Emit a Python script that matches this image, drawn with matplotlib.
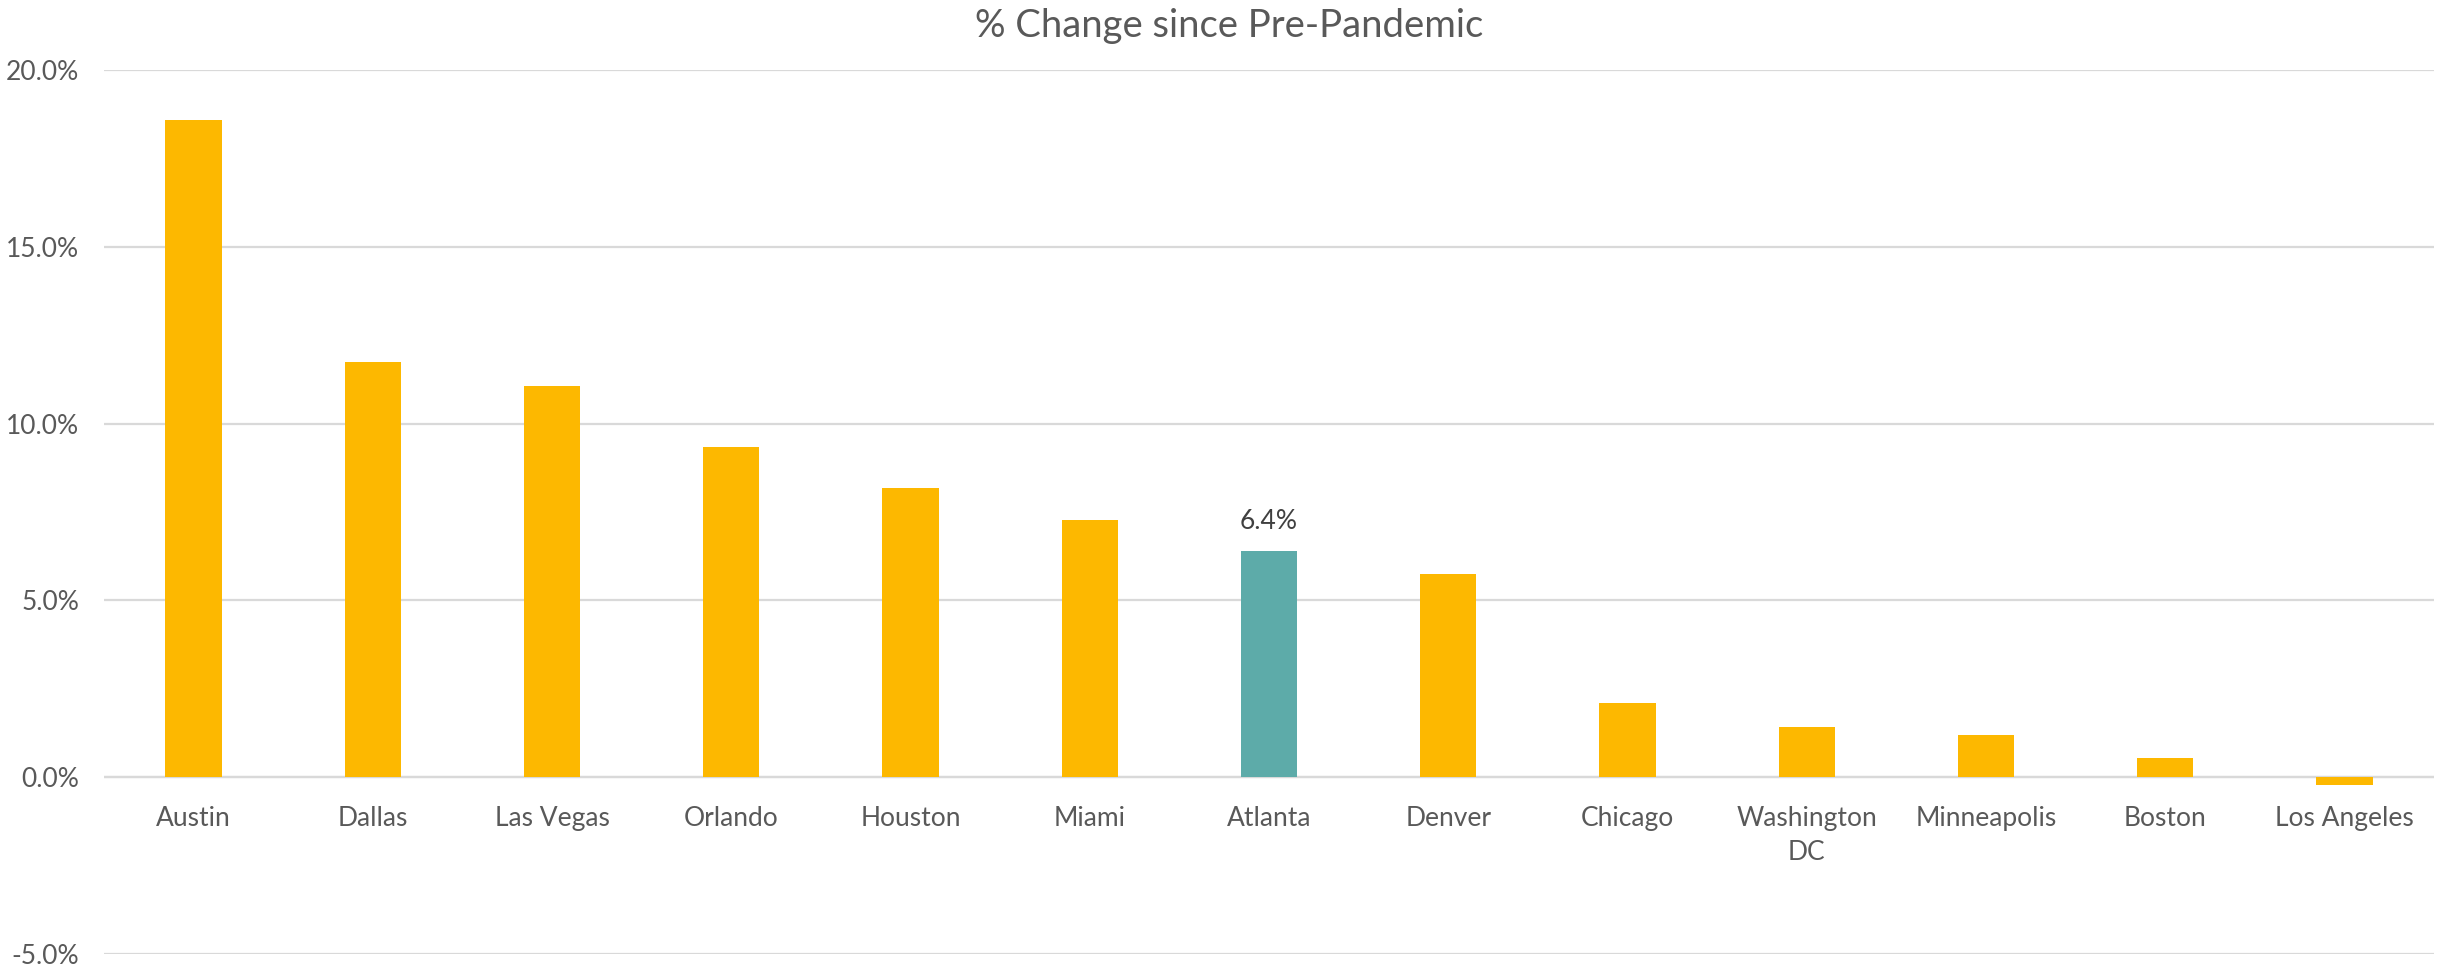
import matplotlib
matplotlib.use("Agg")
import matplotlib.pyplot as plt
from matplotlib.ticker import FuncFormatter, MultipleLocator
from matplotlib.transforms import ScaledTranslation

# Percent change in each metro since the pre-pandemic baseline
cities = ["Austin", "Dallas", "Las Vegas", "Orlando", "Houston", "Miami", "Atlanta",
          "Denver", "Chicago", "Washington\nDC", "Minneapolis", "Boston", "Los Angeles"]
pct_change = [18.6, 11.73, 11.06, 9.33, 8.17, 7.26, 6.4,
              5.76, 2.11, 1.43, 1.20, 0.53, -0.23]
highlight = "Atlanta"

GOLD = "#FDB800"
TEAL = "#5DABA9"
GRID = "#D9D9D9"
TEXT = "#595959"

plt.rcParams["font.family"] = ["Lato", "DejaVu Sans"]

fig = plt.figure(figsize=(24.38, 9.68), dpi=100)
ax = fig.add_axes([104 / 2438, 1 - 954 / 968, (2434 - 104) / 2438, (954 - 70) / 968])

x = list(range(len(cities)))
colors = [TEAL if c == highlight else GOLD for c in cities]
ax.bar(x, pct_change, width=0.314, color=colors, zorder=3)

# value label for the highlighted city
i = cities.index(highlight)
ax.annotate(f"{pct_change[i]:.1f}%", (x[i], pct_change[i]), xytext=(0, 12),
            textcoords="offset points", ha="center", va="bottom",
            fontsize=19, color="#404040")

ax.set_xlim(-0.5, len(cities) - 0.5)
ax.set_ylim(-5, 20)
ax.yaxis.set_major_locator(MultipleLocator(5))
ax.yaxis.set_major_formatter(FuncFormatter(lambda v, p: f"{v:.1f}%"))
ax.grid(axis="y", color=GRID, linewidth=1.6, zorder=0)
ax.axhline(0, color=GRID, linewidth=1.6, zorder=2)
for s in ax.spines.values():
    s.set_visible(False)

ax.set_xticks([])
ax.tick_params(axis="y", length=0, pad=18, labelsize=19, labelcolor=TEXT)

# category labels hang just beneath the zero line
offset = ScaledTranslation(0, -21 / 72, fig.dpi_scale_trans)
for xi, c in zip(x, cities):
    ax.text(xi, 0, c, transform=ax.transData + offset,
            ha="center", va="top", fontsize=19, color=TEXT, linespacing=1.45)

fig.text(1229 / 2438, 1 - 26 / 968, "% Change since Pre-Pandemic", ha="center", va="center",
         fontsize=27.5, color=TEXT)

fig.savefig("out.png", dpi=100, facecolor="white")
